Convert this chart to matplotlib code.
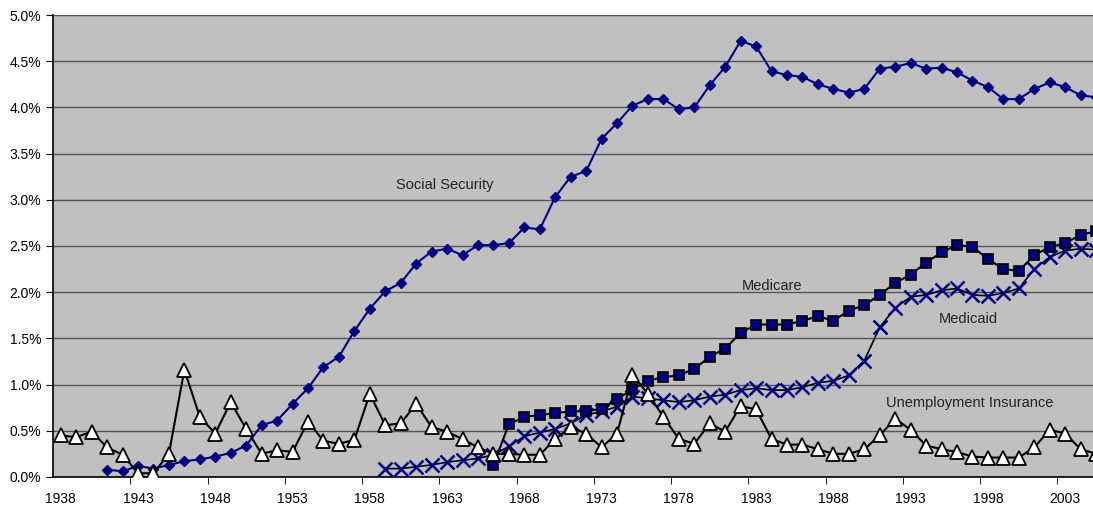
import matplotlib.pyplot as plt
from matplotlib.ticker import FuncFormatter, MultipleLocator

plt.rcParams['font.family'] = ['Liberation Sans', 'DejaVu Sans']

# Values, share of GDP in percent
ss_years = list(range(1941, 2006))
social_security = [0.08, 0.06, 0.12, 0.09, 0.13, 0.17, 0.19, 0.22, 0.26, 0.34,
                   0.56, 0.61, 0.79, 0.96, 1.19, 1.30, 1.58, 1.82, 2.01, 2.10,
                   2.31, 2.44, 2.47, 2.40, 2.51, 2.51, 2.53, 2.70, 2.68, 3.03,
                   3.25, 3.31, 3.66, 3.83, 4.02, 4.09, 4.09, 3.98, 4.00, 4.24,
                   4.44, 4.72, 4.66, 4.39, 4.35, 4.33, 4.25, 4.20, 4.16, 4.20,
                   4.42, 4.44, 4.48, 4.42, 4.43, 4.38, 4.29, 4.22, 4.09, 4.09,
                   4.20, 4.27, 4.22, 4.13, 4.11]

mc_years = list(range(1966, 2006))
medicare = [0.13, 0.57, 0.65, 0.67, 0.69, 0.71, 0.71, 0.74, 0.84, 0.95,
            1.04, 1.08, 1.10, 1.17, 1.30, 1.39, 1.56, 1.65, 1.65, 1.65,
            1.69, 1.74, 1.69, 1.80, 1.86, 1.97, 2.10, 2.19, 2.32, 2.43,
            2.51, 2.49, 2.36, 2.25, 2.23, 2.40, 2.49, 2.53, 2.62, 2.66]

md_years = list(range(1959, 2006))
medicaid = [0.09, 0.09, 0.11, 0.13, 0.16, 0.18, 0.20, 0.24, 0.33, 0.44,
            0.48, 0.52, 0.58, 0.67, 0.71, 0.76, 0.87, 0.85, 0.83, 0.81,
            0.83, 0.87, 0.89, 0.94, 0.96, 0.94, 0.94, 0.97, 1.02, 1.04,
            1.10, 1.26, 1.62, 1.83, 1.95, 1.97, 2.02, 2.04, 1.97, 1.96,
            1.99, 2.04, 2.25, 2.38, 2.45, 2.47, 2.46]

ui_years = list(range(1938, 2006))
unemployment = [0.45, 0.43, 0.49, 0.32, 0.24, 0.04, 0.04, 0.25, 1.16, 0.65,
                0.47, 0.81, 0.52, 0.25, 0.29, 0.27, 0.60, 0.39, 0.36, 0.40,
                0.90, 0.56, 0.58, 0.79, 0.54, 0.49, 0.41, 0.32, 0.25, 0.25,
                0.24, 0.24, 0.41, 0.54, 0.47, 0.32, 0.47, 1.10, 0.90, 0.65,
                0.41, 0.36, 0.58, 0.49, 0.77, 0.73, 0.41, 0.35, 0.35, 0.30,
                0.25, 0.25, 0.30, 0.45, 0.63, 0.51, 0.34, 0.30, 0.27, 0.22,
                0.21, 0.21, 0.21, 0.32, 0.51, 0.47, 0.30, 0.25]

year_labels = list(range(1938, 2004, 5))

navy = '#000080'

fig = plt.figure(figsize=(10.93, 5.09), dpi=100)
ax = fig.add_axes([0.0485, 0.063, 0.9515, 0.9075])
ax.set_facecolor('#C0C0C0')

ax.plot(ss_years, social_security, color=navy, lw=1.5, marker='D',
        ms=5, mfc=navy, mec=navy, zorder=3)
ax.plot(mc_years, medicare, color='black', lw=1.5, marker='s',
        ms=7, mfc=navy, mec='black', mew=1.2, zorder=4)
ax.plot(md_years, medicaid, color='black', lw=1.2, marker='x',
        ms=10, mec=navy, mew=1.8, zorder=3)
ax.plot(ui_years, unemployment, color='black', lw=1.5, marker='^',
        ms=10, mfc='white', mec='black', mew=1.3, zorder=5)

ax.text(1959.7, 3.16, 'Social Security', fontsize=10.5, va='center', color='#222222')
ax.text(1982.1, 2.07, 'Medicare', fontsize=10.5, va='center', color='#222222')
ax.text(1994.8, 1.71, 'Medicaid', fontsize=10.5, va='center', color='#222222')
ax.text(1991.4, 0.80, 'Unemployment Insurance', fontsize=10.5, va='center', color='#222222')

ax.set_xlim(1937.5, 2004.8)
ax.set_ylim(0, 5.0)
ax.yaxis.set_major_locator(MultipleLocator(0.5))
ax.yaxis.set_major_formatter(FuncFormatter(lambda v, p: f'{v:.1f}%'))
ax.grid(axis='y', color='#555555', lw=1)
ax.set_axisbelow(True)

ax.set_xticks(year_labels)
ax.set_xticklabels([str(y) for y in year_labels])
ax.set_xticks([y - 0.5 for y in year_labels[1:]], minor=True)
ax.tick_params(axis='x', which='major', length=0, pad=11, labelsize=10)
ax.tick_params(axis='x', which='minor', length=5, direction='out', color='black')
ax.tick_params(axis='y', length=5, direction='out', labelsize=10)

for side in ['top', 'right']:
    ax.spines[side].set_visible(False)
ax.spines['left'].set_color('black')
ax.spines['bottom'].set_color('black')
ax.spines['left'].set_linewidth(1.2)
ax.spines['bottom'].set_linewidth(1.2)

plt.savefig('out.png', dpi=100)
